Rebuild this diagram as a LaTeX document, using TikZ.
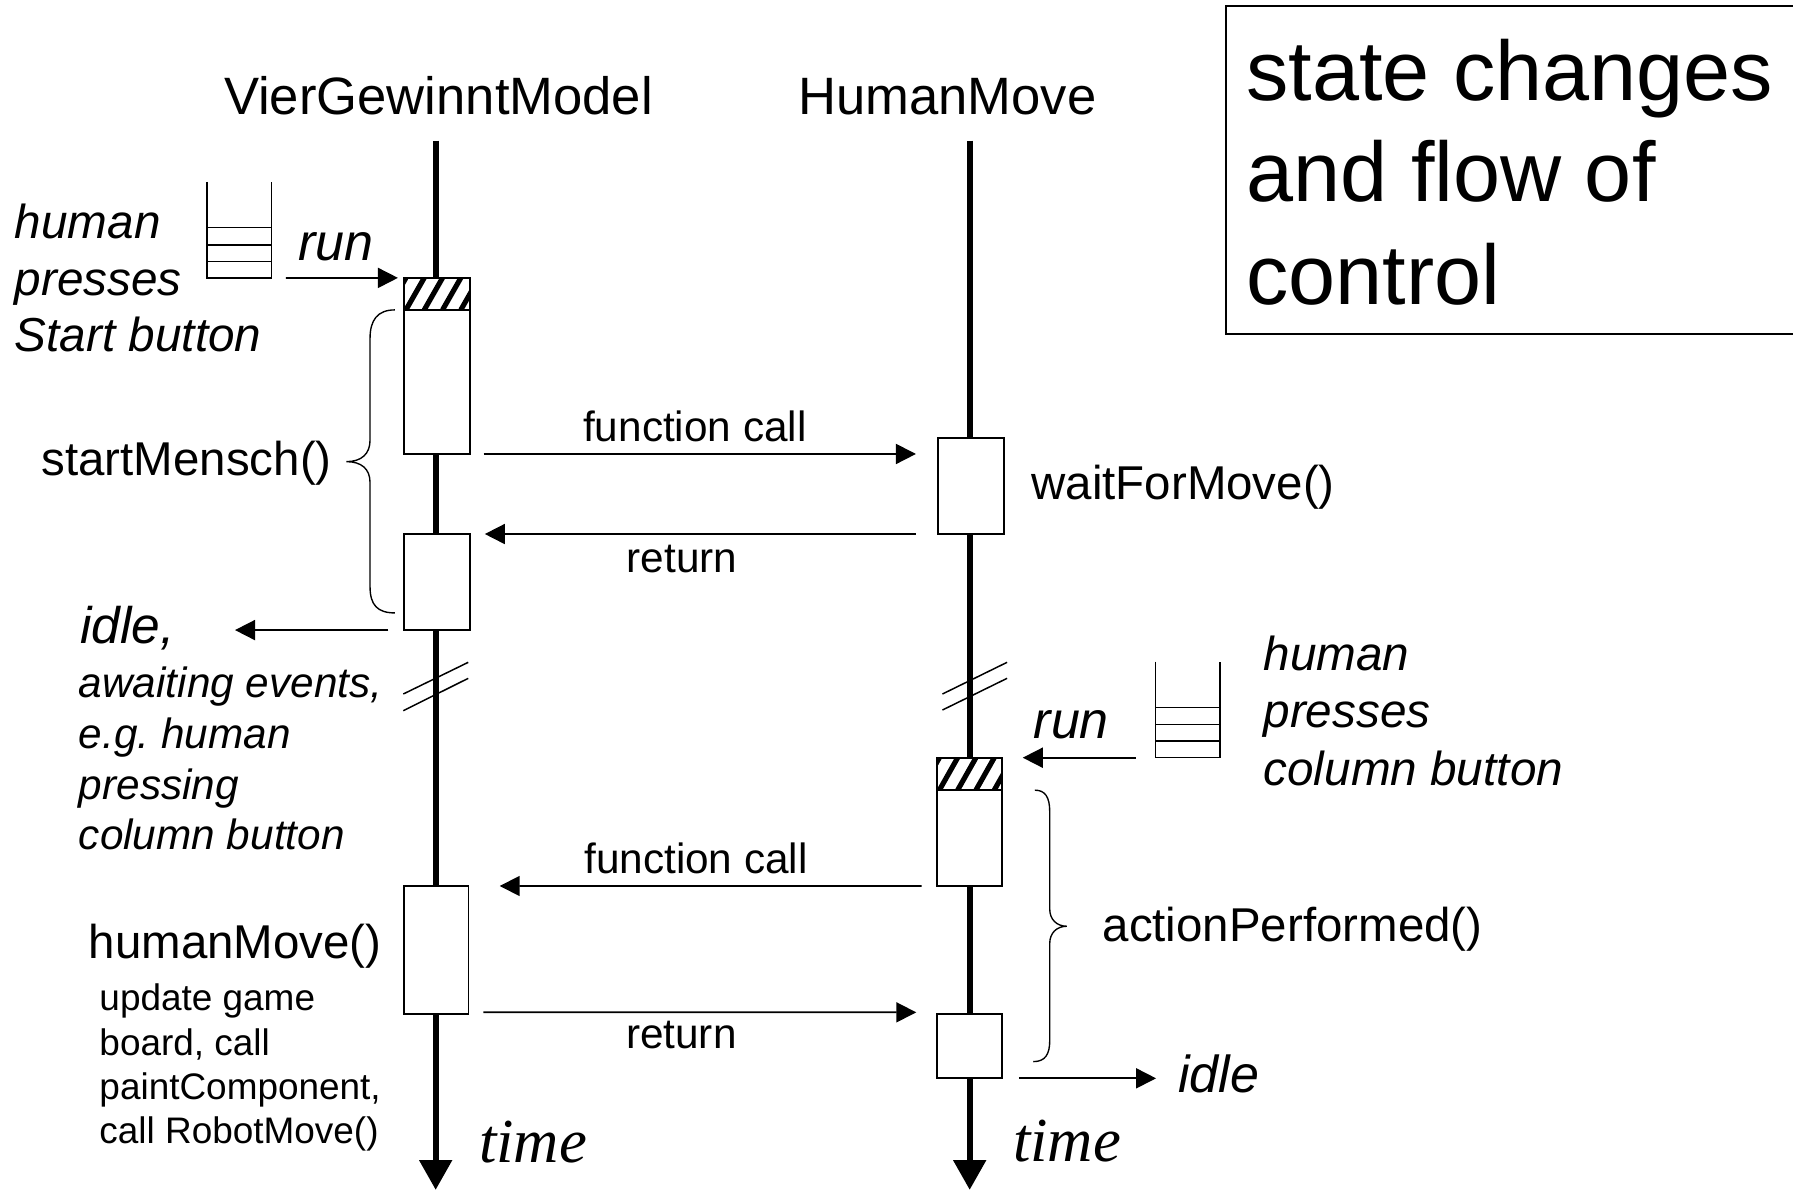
\documentclass[tikz,border=0pt]{standalone}
\usepackage{fontspec}
\setmainfont{Liberation Sans}
\newfontfamily\timesfont{Liberation Serif}
\usetikzlibrary{arrows.meta,calc}
\frenchspacing
\newcommand\fsz[2]{\fontsize{#1pt}{#2pt}\selectfont}
\tikzset{
  lbl/.style={inner sep=0pt, outer sep=0pt, anchor=base west},
  msg/.style={line width=1.5pt, -{Triangle[length=17.5pt,width=17.5pt]}},
  life/.style={line width=5.5pt, -{Triangle[length=26pt,width=27.5pt]}},
  actbox/.style={draw, line width=1.5pt, fill=white, inner sep=0pt, outer sep=0pt, anchor=north west},
  btn/.style={line width=1.2pt},
  brk/.style={line width=1.3pt},
  brc/.style={line width=1.2pt},
  hdr/.style={lbl, font=\fsz{46}{55}},
  meth/.style={lbl, font=\fsz{41.5}{50}},
  msglbl/.style={lbl, font=\fsz{37}{44}},
  note/.style={lbl, font=\fsz{41.7}{50}\itshape},
  smallnote/.style={lbl, font=\fsz{37}{44}\itshape},
  tiny/.style={lbl, font=\fsz{32.3}{39}},
  runlbl/.style={lbl, font=\fsz{45.5}{54}\itshape},
  timelbl/.style={lbl, font=\timesfont\fsz{54.8}{64}\itshape},
  ttl/.style={lbl, font=\fsz{74}{89}},
}
\newcommand\hatchtop[2]{%
  \begin{scope}
    \clip (#1.north west) rectangle ($(#1.north east)+(0,#2)$);
    \foreach \k in {-2,...,5}{\draw[line width=4.5pt] ($(#1.north west)+(\k*16+2,#2)$) -- ++(16,-#2);}
  \end{scope}
  \draw[line width=1.5pt] (#1.north west) rectangle ($(#1.north east)+(0,#2)$);}
\newcommand\pushbutton[1]{% bottom left corner coordinate name
  \draw[btn] ($(#1)+(0,-84)$) -- (#1) -- ++(56.2,0) -- ++(0,-84);
  \draw[btn] ($(#1)+(0,-44)$) -- ++(56.2,0);
  \draw[btn] ($(#1)+(0,-29)$) -- ++(56.2,0);
  \draw[btn] ($(#1)+(0,-14.5)$) -- ++(56.2,0);}
\begin{document}
\begin{tikzpicture}[x=1pt,y=-1pt]
\useasboundingbox (0,0) rectangle (1568,1041.5);

% title box
\draw[line width=1.3pt] (1072,5.2) rectangle (1580,292);
\node[ttl] (t1) at (1090,87.5) {state changes};
\node[ttl] (t2) at (1090,176) {and flow of};
\node[ttl] (t3) at (1090,266) {control};

% headers and lifelines
\node[hdr] (hdrA) at (196,100) {VierGewinntModel};
\node[hdr] (hdrB) at (698,100) {HumanMove};
\coordinate (lAtop) at (381,123);
\coordinate (lAend) at (381,1040.6);
\coordinate (lBtop) at (848,123);
\coordinate (lBend) at (848,1040.6);
\draw[life] (lAtop) -- (lAend);
\draw[life] (lBtop) -- (lBend);

% break marks
\draw[brk] (352.7,606.9) -- (409.5,579.2);
\draw[brk] (352.7,621.5) -- (409.5,593.2);
\draw[brk] (824.2,606.9) -- (880.7,579.2);
\draw[brk] (824.2,620.9) -- (880.7,593.2);

% activation boxes
\node[actbox, minimum width=58pt, minimum height=154pt] (b1) at (353,243) {};
\node[actbox, minimum width=58pt, minimum height=84pt] (b2) at (353,467) {};
\node[actbox, minimum width=56.7pt, minimum height=112.2pt] (b3) at (353,774.8) {};
\node[actbox, minimum width=58pt, minimum height=84pt] (w1) at (820,383) {};
\node[actbox, minimum width=56.5pt, minimum height=112.2pt] (b4) at (819.5,662.6) {};
\node[actbox, minimum width=56.5pt, minimum height=56pt] (b5) at (819.5,887) {};
\hatchtop{b1}{28}
\hatchtop{b4}{28.3}

% push buttons
\coordinate (btnA) at (181,243.1);
\coordinate (btnB) at (1010.7,662.6);
\pushbutton{btnA}
\pushbutton{btnB}

% messages
\coordinate (runA) at (250,243.1);
\draw[msg] (runA) -- ($(b1.north west)+(-5,0)$);
\draw[msg] ($(b1.south east)+(12,0)$) -- ($(w1.north west)+(-19,14)$);
\draw[msg] ($(w1.south west)+(-19,0)$) -- ($(b2.north east)+(13,0)$);
\coordinate (idleL) at (205.5,551);
\draw[msg] ($(b2.south west)+(-13.4,0)$) -- (idleL);
\draw[msg] ($(btnB)+(-17.7,0)$) -- ($(b4.north east)+(18.4,0)$);
\draw[msg] ($(b4.south west)+(-13.5,0)$) -- ($(b3.north east)+(27.3,0)$);
\draw[msg] ($(b3.south east)+(13,-1.7)$) -- ($(b5.north west)+(-18.2,-1.7)$);
\coordinate (idleR) at (1011,943);
\draw[msg] ($(b5.south east)+(15,0)$) -- (idleR);

% braces
\draw[brc] (345.4,271) .. controls (330,271) and (323.6,280) .. (323.6,296)
  -- (323.6,385) .. controls (323.6,397) and (316,403.7) .. (303,403.7)
  .. controls (316,403.7) and (323.6,410) .. (323.6,422)
  -- (323.6,513) .. controls (323.6,529) and (330,536) .. (345.4,536);
\draw[brc] (905,691) .. controls (914,691) and (918,697) .. (918,710)
  -- (918,795) .. controls (918,804) and (924,810) .. (933,810)
  .. controls (924,810) and (918,816) .. (918,825)
  -- (918,910) .. controls (918,922) and (914,928.4) .. (903.6,928.4);

% labels
\node[note] (hp1) at (13,208.4) {human};
\node[note] (hp2) at (13,258) {presses};
\node[note] (hp3) at (13,307.5) {Start button};
\node[runlbl] (run1) at (261,227.4) {run};
\node[meth] (sm) at (36.4,415.4) {startMensch()};
\node[msglbl] (fc1) at (510,386) {function call};
\node[msglbl] (ret1) at (548,500.8) {return};
\node[meth] (wfm) at (902,437) {waitForMove()};
\node[lbl, font=\fsz{45}{54}\itshape] (idle1) at (70,562.6) {idle,};
\node[smallnote] (aw1) at (69,609.8) {awaiting events,};
\node[smallnote] (aw2) at (69,654.3) {e.g. human};
\node[smallnote] (aw3) at (69,698.8) {pressing};
\node[smallnote] (aw4) at (69,743.3) {column button};
\node[note] (hc1) at (1105,586) {human};
\node[note] (hc2) at (1105,636.5) {presses};
\node[note] (hc3) at (1105,687) {column button};
\node[runlbl] (run2) at (904,645.7) {run};
\node[msglbl] (fc2) at (511,763.7) {function call};
\node[meth] (hm) at (77.6,838) {humanMove()};
\node[meth] (ap) at (964.3,823.5) {actionPerformed()};
\node[tiny] (u1) at (87,884) {update game};
\node[tiny] (u2) at (87,922.8) {board, call};
\node[tiny] (u3) at (87,961.6) {paintComponent,};
\node[tiny] (u4) at (87,1000.4) {call RobotMove()};
\node[msglbl] (ret2) at (547.5,916.8) {return};
\node[lbl, font=\fsz{45.5}{54}\itshape] (idle2) at (1030.5,955.5) {idle};
\node[timelbl] (timeA) at (419,1017) {time};
\node[timelbl] (timeB) at (886,1016) {time};
\end{tikzpicture}
\end{document}
